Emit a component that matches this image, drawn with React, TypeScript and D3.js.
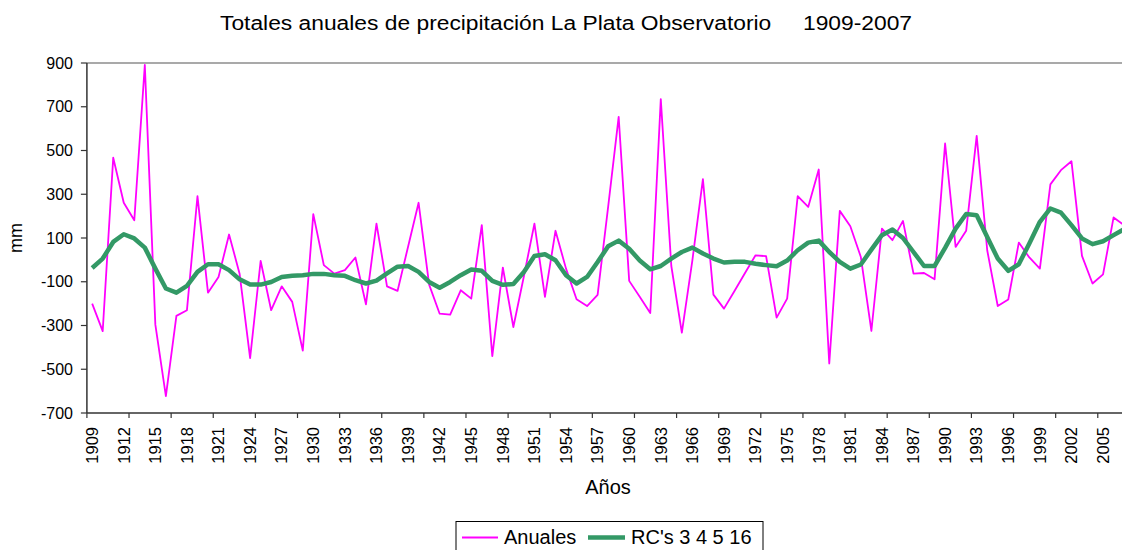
import { useMemo } from 'react'
import * as d3 from 'd3'

const years: number[] = d3.range(1909, 2008)

// Totales anuales (anomalías, mm)
const anuales: number[] = [
  -200, -326, 467, 261, 181, 891, -296, -623, -256, -230,
  291, -150, -78, 116, -63, -449, -5, -230, -121, -192,
  -415, 209, -24, -63, -47, 11, -203, 166, -121, -142,
  60, 261, -113, -246, -250, -139, -177, 159, -440, -35,
  -307, -75, 166, -169, 133, -40, -180, -211, -160, 242,
  654, -96, -169, -243, 735, -28, -333, -2, 369, -159,
  -223, -142, -60, 21, 17, -264, -177, 291, 242, 413,
  -474, 224, 154, 13, -325, 143, 90, 178, -63, -60,
  -89, 532, 59, 133, 567, 44, -211, -181, 79, 11,
  -40, 345, 410, 451, 18, -108, -66, 194, 159,
]

// Reconstrucción RC's 3 4 5 16
const rcs: number[] = [
  -37, 6, 82, 117, 98, 56, -40, -131, -150, -119,
  -55, -20, -20, -47, -89, -113, -113, -101, -78, -73,
  -70, -64, -64, -70, -73, -93, -108, -95, -62, -31,
  -28, -55, -101, -127, -101, -70, -44, -50, -96, -114,
  -110, -55, 18, 26, -2, -70, -108, -78, -10, 62,
  88, 51, -3, -43, -28, 6, 36, 56, 29, 6,
  -12, -9, -9, -18, -24, -29, -3, 44, 79, 88,
  36, -9, -40, -21, 47, 113, 139, 100, 36, -28,
  -28, 55, 143, 210, 204, 105, 6, -50, -20, 75,
  174, 235, 216, 159, 98, 72, 85, 113, 140,
]

const yTicks: number[] = [900, 700, 500, 300, 100, -100, -300, -500, -700]

const W = 1122
const H = 550
const left = 86.9
const top = 63
const bottom = 413
const catW = 10.53
const font = '"Liberation Sans", Arial, sans-serif'

export default function App() {
  const x = useMemo(
    () =>
      d3
        .scaleBand<number>()
        .domain(years)
        .range([left, left + catW * years.length])
        .paddingInner(0)
        .paddingOuter(0),
    []
  )
  const y = useMemo(() => d3.scaleLinear().domain([-700, 900]).range([bottom, top]), [])
  const cx = (yr: number) => (x(yr) as number) + x.bandwidth() / 2

  const line = d3
    .line<number>()
    .x((_, i) => cx(years[i]))
    .y(d => y(d))

  const tickYears = years.filter((_, i) => i % 4 === 0)
  const labelYears = years.filter((_, i) => i % 3 === 0)

  return (
    <svg
      width={W}
      height={H}
      style={{ position: 'absolute', left: 0, top: 0, background: '#fff' }}
      fontFamily={font}
    >
      <rect x={0} y={0} width={W} height={H} fill="#fff" />

      {/* title */}
      <text
        x={220}
        y={30}
        fontSize={20}
        fill="#000"
        textLength={692}
        lengthAdjust="spacingAndGlyphs"
        style={{ whiteSpace: 'pre' }}
      >
        {'Totales anuales de precipitación La Plata Observatorio     1909-2007'}
      </text>

      {/* plot frame top */}
      <line x1={left} x2={W} y1={top} y2={top} stroke="#8c8c8c" strokeWidth={1.5} />

      {/* y axis */}
      <line x1={left} x2={left} y1={top} y2={bottom} stroke="#333" strokeWidth={1.5} />
      {yTicks.map(t => (
        <g key={t}>
          <line x1={left - 6} x2={left} y1={y(t)} y2={y(t)} stroke="#333" strokeWidth={1.2} />
          <text x={73} y={y(t)} dy="0.35em" textAnchor="end" fontSize={16} fill="#000">
            {t}
          </text>
        </g>
      ))}
      <text
        transform={`translate(22,${(top + bottom) / 2}) rotate(-90)`}
        textAnchor="middle"
        fontSize={18}
        fill="#000"
      >
        mm
      </text>

      {/* x axis */}
      <line x1={left} x2={W} y1={bottom} y2={bottom} stroke="#333" strokeWidth={1.5} />
      {tickYears.map(yr => (
        <line
          key={yr}
          x1={x(yr) as number}
          x2={x(yr) as number}
          y1={bottom}
          y2={bottom + 5}
          stroke="#333"
          strokeWidth={1.2}
        />
      ))}
      {labelYears.map(yr => (
        <text
          key={yr}
          transform={`translate(${cx(yr)},${bottom + 14}) rotate(-90)`}
          dy="0.35em"
          textAnchor="end"
          fontSize={16.5}
          fill="#000"
        >
          {yr}
        </text>
      ))}
      <text x={608} y={494} textAnchor="middle" fontSize={20} fill="#000">
        Años
      </text>

      {/* series */}
      <path d={line(anuales) ?? ''} fill="none" stroke="#ff00ff" strokeWidth={1.8} strokeLinejoin="round" />
      <path d={line(rcs) ?? ''} fill="none" stroke="#339966" strokeWidth={4.5} strokeLinejoin="round" />

      {/* legend */}
      <rect x={456} y={521.5} width={307} height={40} fill="#fff" stroke="#000" strokeWidth={1} />
      <line x1={462} x2={498} y1={537.5} y2={537.5} stroke="#ff00ff" strokeWidth={1.8} />
      <text x={504} y={544} fontSize={20} fill="#000">
        Anuales
      </text>
      <line x1={588} x2={625} y1={537.5} y2={537.5} stroke="#339966" strokeWidth={4.5} />
      <text x={631} y={544} fontSize={20} fill="#000">
        RC's 3 4 5 16
      </text>
    </svg>
  )
}
